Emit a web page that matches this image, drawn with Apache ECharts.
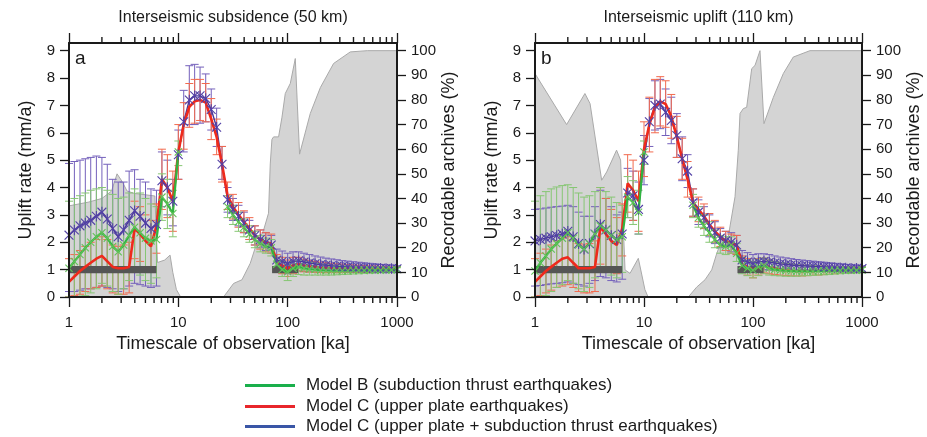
<!DOCTYPE html>
<html>
<head>
<meta charset="utf-8">
<script src="https://cdn.jsdelivr.net/npm/echarts@6/dist/echarts.min.js"></script>
<style>
html, body { margin: 0; padding: 0; background: #fff; }
#chart { width: 927px; height: 437px; }
</style>
</head>
<body>
<div id="chart"></div>
<script>
// Observation timescales (ka), log-spaced
const timescale = [1, 1.12, 1.26, 1.41, 1.58, 1.78, 2, 2.24, 2.51, 2.82, 3.16, 3.55, 3.98, 4.47, 5.01, 5.62, 6.31, 7.08, 7.94, 8.91,
  10, 11.2, 12.6, 14.1, 15.8, 17.8, 20, 22.4, 25.1, 28.2, 31.6, 35.5, 39.8, 44.7, 50.1, 56.2, 63.1, 70.8, 79.4, 89.1,
  100, 112, 126, 141, 158, 178, 200, 224, 251, 282, 316, 355, 398, 447, 501, 562, 631, 708, 794, 891, 1000];

// Panel a: interseismic subsidence (50 km)
const blueMeanA = [2.26, 2.45, 2.6, 2.7, 2.8, 2.95, 3.1, 2.85, 2.5, 2.2, 2.45, 2.8, 3.15, 2.95, 2.7, 2.5, 2.65, 4.25, 4.0, 3.5,
  5.2, 6.4, 7.2, 7.35, 7.35, 7.25, 6.85, 6.2, 4.85, 3.55, 3.2, 2.95, 2.7, 2.45, 2.25, 2.1, 2.0, 1.9, 1.35, 1.3,
  1.22, 1.3, 1.32, 1.28, 1.24, 1.21, 1.18, 1.16, 1.14, 1.12, 1.11, 1.1, 1.09, 1.08, 1.07, 1.06, 1.05, 1.05, 1.04, 1.04, 1.03];
const blueHighA = [4.88, 4.95, 5.0, 5.05, 5.1, 5.15, 5.1, 4.85, 4.3, 4.2, 4.2, 4.6, 4.65, 4.3, 4.2, 3.95, 3.9, 5.3, 5.0, 4.3,
  6.1, 7.55, 8.45, 8.5, 8.4, 8.15, 7.6, 6.9, 5.5, 4.0, 3.6, 3.35, 3.1, 2.8, 2.6, 2.45, 2.35, 2.25, 1.75, 1.68,
  1.6, 1.65, 1.65, 1.6, 1.55, 1.5, 1.46, 1.42, 1.39, 1.36, 1.33, 1.31, 1.29, 1.27, 1.25, 1.23, 1.21, 1.19, 1.17, 1.16, 1.14];
const blueLowA = [0.2, 0.2, 0.25, 0.3, 0.3, 0.35, 0.4, 0.35, 0.3, 0.2, 0.3, 0.4, 0.5, 0.45, 0.4, 0.35, 0.4, 3.3, 3.0, 2.6,
  4.3, 5.3, 6.3, 6.3, 6.35, 6.4, 6.1, 5.5, 4.3, 3.1, 2.8, 2.6, 2.35, 2.1, 1.9, 1.8, 1.7, 1.6, 1.0, 0.92,
  0.85, 0.9, 0.95, 0.93, 0.92, 0.91, 0.9, 0.9, 0.9, 0.9, 0.9, 0.9, 0.9, 0.91, 0.91, 0.91, 0.92, 0.92, 0.92, 0.93, 0.93];

const redMeanA = [0.55, 0.75, 0.95, 1.1, 1.25, 1.4, 1.5, 1.3, 1.1, 1.05, 1.05, 1.1, 2.5, 2.3, 2.05, 1.85, 2.6, 4.3, 4.0, 3.5,
  5.3, 6.3, 6.95, 7.15, 7.2, 7.1, 6.5, 5.85, 4.85, 3.7, 3.3, 3.0, 2.75, 2.5, 2.25, 2.1, 2.0, 1.95, 1.25, 1.15,
  1.05, 1.15, 1.2, 1.15, 1.12, 1.1, 1.08, 1.07, 1.06, 1.05, 1.04, 1.04, 1.03, 1.03, 1.02, 1.02, 1.01, 1.01, 1.0, 1.0, 1.0];
const redHighA = [1.4, 1.55, 1.7, 1.85, 2.0, 2.1, 2.2, 2.1, 1.9, 1.85, 1.9, 2.0, 3.5, 3.3, 3.0, 2.8, 3.4, 5.4, 5.2, 4.6,
  6.3, 7.1, 7.8, 7.95, 7.95, 7.8, 7.25, 6.5, 5.5, 4.2, 3.75, 3.45, 3.15, 2.9, 2.6, 2.45, 2.35, 2.3, 1.55, 1.45,
  1.35, 1.45, 1.45, 1.38, 1.33, 1.3, 1.27, 1.25, 1.23, 1.21, 1.2, 1.18, 1.17, 1.16, 1.15, 1.14, 1.13, 1.12, 1.11, 1.1, 1.1];
const redLowA = [0.0, 0.05, 0.1, 0.2, 0.3, 0.35, 0.4, 0.3, 0.15, 0.1, 0.1, 0.15, 1.4, 1.3, 1.1, 0.9, 1.6, 3.2, 2.9, 2.4,
  4.3, 5.4, 6.2, 6.35, 6.45, 6.4, 5.75, 5.2, 4.2, 3.2, 2.85, 2.55, 2.35, 2.1, 1.9, 1.75, 1.65, 1.6, 0.95, 0.85,
  0.75, 0.85, 0.95, 0.92, 0.91, 0.9, 0.89, 0.89, 0.89, 0.89, 0.89, 0.9, 0.9, 0.9, 0.9, 0.9, 0.9, 0.9, 0.9, 0.9, 0.9];

const greenMeanA = [1.05, 1.3, 1.55, 1.8, 2.0, 2.2, 2.35, 2.15, 1.85, 1.65, 1.9, 2.25, 2.55, 2.35, 2.15, 2.05, 2.1, 3.65, 3.4, 3.05,
  5.3, null, null, null, null, null, null, null, null, 3.3, 3.0, 2.75, 2.55, 2.3, 2.1, 1.95, 1.85, 1.8, 1.2, 1.0,
  0.92, 1.05, 1.1, 1.05, 1.02, 1.0, 0.98, 0.97, 0.96, 0.96, 0.96, 0.96, 0.97, 0.97, 0.97, 0.98, 0.98, 0.98, 0.99, 0.99, 1.0];
const greenHighA = [3.5, 3.6, 3.7, 3.8, 3.9, 3.95, 4.0, 3.9, 3.75, 3.6, 3.65, 3.8, 3.95, 3.8, 3.6, 3.4, 3.3, 4.5, 4.3, 3.9,
  5.7, null, null, null, null, null, null, null, null, 3.7, 3.35, 3.1, 2.85, 2.6, 2.4, 2.25, 2.15, 2.1, 1.45, 1.3,
  1.2, 1.3, 1.35, 1.3, 1.26, 1.22, 1.2, 1.18, 1.16, 1.15, 1.14, 1.13, 1.12, 1.11, 1.1, 1.1, 1.09, 1.08, 1.08, 1.07, 1.07];
const greenLowA = [0.0, 0.0, 0.0, 0.05, 0.15, 0.3, 0.5, 0.4, 0.2, 0.1, 0.3, 0.6, 0.9, 0.8, 0.6, 0.5, 0.7, 2.8, 2.5, 2.2,
  4.8, null, null, null, null, null, null, null, null, 2.9, 2.65, 2.4, 2.2, 2.0, 1.8, 1.65, 1.6, 1.5, 0.95, 0.75,
  0.6, 0.75, 0.82, 0.8, 0.8, 0.8, 0.8, 0.8, 0.8, 0.81, 0.82, 0.83, 0.84, 0.85, 0.86, 0.87, 0.88, 0.89, 0.9, 0.9, 0.91];

// Panel b: interseismic uplift (110 km)
const blueMeanB = [2.05, 2.1, 2.15, 2.2, 2.25, 2.3, 2.4, 2.2, 1.95, 1.75, 1.95, 2.3, 2.65, 2.45, 2.25, 2.1, 2.3, 3.8, 3.7, 3.2,
  5.0, 6.4, 7.0, 7.05, 6.75, 6.45, 5.9, 5.05, 4.6, 3.45, 3.1, 2.9, 2.6, 2.35, 2.15, 2.05, 2.0, 1.9, 1.35, 1.28,
  1.22, 1.28, 1.3, 1.27, 1.24, 1.21, 1.19, 1.17, 1.15, 1.14, 1.13, 1.12, 1.11, 1.1, 1.09, 1.08, 1.07, 1.06, 1.05, 1.05, 1.04];
const blueHighB = [3.2, 3.22, 3.25, 3.28, 3.3, 3.32, 3.35, 3.3, 3.1, 2.95, 2.95, 3.3, 3.9, 3.6, 3.3, 3.0, 3.1, 4.7, 4.6, 4.2,
  5.9, 7.25, 7.9, 7.95, 7.6, 7.3, 6.7, 5.85, 5.2, 3.95, 3.55, 3.3, 3.0, 2.75, 2.5, 2.4, 2.35, 2.25, 1.7, 1.62,
  1.55, 1.58, 1.58, 1.55, 1.5, 1.46, 1.43, 1.4, 1.37, 1.35, 1.33, 1.31, 1.29, 1.27, 1.25, 1.23, 1.21, 1.19, 1.17, 1.15, 1.14];
const blueLowB = [0.4, 0.42, 0.45, 0.48, 0.5, 0.52, 0.55, 0.5, 0.45, 0.4, 0.5, 0.6, 0.75, 0.7, 0.6, 0.55, 0.65, 2.9, 2.8, 2.3,
  4.1, 5.5, 6.1, 6.15, 5.9, 5.6, 5.1, 4.25, 4.0, 2.95, 2.65, 2.5, 2.2, 1.95, 1.8, 1.7, 1.65, 1.55, 1.0, 0.95,
  0.9, 0.98, 1.0, 0.98, 0.97, 0.96, 0.95, 0.94, 0.93, 0.93, 0.93, 0.93, 0.93, 0.93, 0.93, 0.93, 0.93, 0.94, 0.94, 0.94, 0.94];

const redMeanB = [0.55, 0.75, 0.95, 1.1, 1.25, 1.4, 1.45, 1.25, 1.05, 1.05, 1.05, 1.1, 2.55, 2.3, 2.05, 1.9, 2.5, 4.15, 3.9, 3.5,
  5.4, 6.3, 6.95, 7.15, 7.05, 6.6, 5.85, 5.05, 4.3, 3.45, 3.2, 2.95, 2.65, 2.4, 2.2, 2.05, 1.95, 1.9, 1.2, 1.1,
  1.0, 1.1, 1.15, 1.1, 1.05, 1.0, 0.98, 0.96, 0.95, 0.95, 0.95, 0.95, 0.96, 0.96, 0.97, 0.97, 0.98, 0.98, 0.99, 0.99, 1.0];
const redHighB = [1.4, 1.6, 1.75, 1.9, 2.05, 2.15, 2.2, 2.1, 1.95, 1.9, 1.95, 2.05, 4.0, 3.6, 3.2, 2.9, 3.4, 5.2, 5.0, 4.6,
  6.4, 7.3, 7.95, 8.05, 7.9, 7.4, 6.6, 5.8, 4.95, 3.95, 3.65, 3.4, 3.05, 2.8, 2.55, 2.4, 2.3, 2.25, 1.5, 1.4,
  1.3, 1.4, 1.42, 1.35, 1.3, 1.25, 1.22, 1.2, 1.18, 1.16, 1.15, 1.14, 1.13, 1.12, 1.12, 1.11, 1.11, 1.1, 1.1, 1.1, 1.1];
const redLowB = [0.0, 0.05, 0.15, 0.25, 0.35, 0.4, 0.45, 0.35, 0.2, 0.15, 0.15, 0.2, 1.2, 1.1, 0.95, 0.85, 1.5, 3.1, 2.8, 2.4,
  4.4, 5.3, 6.0, 6.25, 6.2, 5.8, 5.1, 4.3, 3.65, 2.95, 2.75, 2.5, 2.25, 2.0, 1.85, 1.7, 1.6, 1.55, 0.9, 0.8,
  0.7, 0.8, 0.88, 0.85, 0.82, 0.8, 0.78, 0.77, 0.77, 0.77, 0.78, 0.79, 0.8, 0.82, 0.83, 0.85, 0.86, 0.87, 0.88, 0.89, 0.9];

const greenMeanB = [0.95, 1.25, 1.5, 1.75, 1.95, 2.15, 2.35, 2.15, 1.9, 1.75, 1.95, 2.3, 2.6, 2.45, 2.25, 2.1, 2.2, 3.65, 3.45, 3.1,
  5.3, null, null, null, null, null, null, null, null, 3.35, 2.9, 2.6, 2.35, 2.1, 1.9, 1.85, 1.9, 1.6, 1.15, 1.05,
  0.98, 1.1, 1.15, 1.05, 1.0, 0.98, 0.96, 0.95, 0.94, 0.94, 0.94, 0.94, 0.95, 0.95, 0.96, 0.96, 0.97, 0.97, 0.98, 0.98, 0.99];
const greenHighB = [3.5, 3.7, 3.85, 3.95, 4.02, 4.07, 4.1, 4.0, 3.8, 3.65, 3.7, 3.85, 4.0, 3.85, 3.65, 3.45, 3.35, 4.4, 4.25, 3.9,
  5.7, null, null, null, null, null, null, null, null, 3.75, 3.3, 3.0, 2.75, 2.45, 2.25, 2.2, 2.2, 1.95, 1.45, 1.35,
  1.3, 1.38, 1.42, 1.35, 1.3, 1.26, 1.23, 1.2, 1.18, 1.16, 1.15, 1.14, 1.13, 1.12, 1.11, 1.1, 1.1, 1.09, 1.09, 1.08, 1.08];
const greenLowB = [0.0, 0.0, 0.05, 0.2, 0.35, 0.45, 0.6, 0.5, 0.3, 0.2, 0.35, 0.7, 1.0, 0.95, 0.8, 0.7, 0.9, 2.9, 2.65, 2.3,
  4.85, null, null, null, null, null, null, null, null, 2.9, 2.55, 2.25, 2.0, 1.8, 1.6, 1.55, 1.6, 1.3, 0.85, 0.78,
  0.7, 0.78, 0.85, 0.8, 0.78, 0.77, 0.76, 0.76, 0.76, 0.77, 0.78, 0.79, 0.8, 0.81, 0.82, 0.84, 0.85, 0.86, 0.87, 0.88, 0.89];

// Recordable archives (%) through time
const archiveTimeA = [1, 1.5, 2, 2.45, 2.75, 3.05, 3.4, 4, 5, 6.1, 6.45, 7.5, 8.4, 8.9, 9.6, 10.5, 25.9, 32, 38.2, 45.5,
  50.5, 60.1, 66.8, 69.3, 71.8, 74.3, 82.6, 88.7, 95.1, 105.7, 117.4, 128.5, 161, 199, 263, 374, 535, 1000];
const archivePctA = [37, 38.5, 40, 43, 50, 47, 43, 42, 41.5, 41, 14, 15, 17, 10, 3, 0, 0, 5.5, 7, 13.7,
  20, 27, 34, 54, 64, 65, 65, 73, 82.6, 86.7, 96.8, 58, 74.5, 85, 94.8, 99.5, 100, 100];
const archiveTimeB = [1, 1.95, 2.87, 3.2, 4.09, 4.55, 5.6, 6.1, 6.7, 7.44, 8.87, 10.2, 10.9, 25.5, 30.4, 36.3, 41.8, 46.5,
  51.6, 59.3, 68.4, 73.3, 76, 81.5, 87.5, 97.3, 104.3, 115.9, 126.1, 153.5, 189.7, 234, 333, 1000];
const archivePctB = [90.7, 70, 82.6, 78.5, 47.4, 50.8, 59.6, 55.6, 11, 9.6, 15.7, 3, 0, 0, 4, 7, 11, 17.7,
  23, 24.5, 40.7, 59.6, 74.5, 76.5, 77, 92.7, 94, 100, 70.4, 81, 90.7, 97.4, 100, 100];

// Imposed (true) uplift rate shown as a band over the calibrated intervals
const trueRateSpans = [[1, 6.3], [72, 125]];
const trueRate = 1;
const trueRateHalfWidth = 0.13;

// Tick labels
const rateTicks = [0, 1, 2, 3, 4, 5, 6, 7, 8, 9];
const archiveTicks = [0, 10, 20, 30, 40, 50, 60, 70, 80, 90, 100];
const majorTimeTicks = [1, 10, 100, 1000];
const minorTimeTicks = [2, 3, 4, 5, 6, 7, 8, 9, 20, 30, 40, 50, 60, 70, 80, 90, 200, 300, 400, 500, 600, 700, 800, 900];

const panelTitles = ['Interseismic subsidence (50 km)', 'Interseismic uplift (110 km)'];
const panelLetters = ['a', 'b'];
const legendNames = [
  'Model B (subduction thrust earthquakes)',
  'Model C (upper plate earthquakes)',
  'Model C (upper plate + subduction thrust earthquakes)'
];

const FONT = 'Liberation Sans, Arial, Helvetica, sans-serif';
const INK = '#1a1a1a';
const RATE_MAX = 9.28;
const PCT_MAX = RATE_MAX * 100 / 9;

const panels = [
  { blue: [blueMeanA, blueLowA, blueHighA], red: [redMeanA, redLowA, redHighA], green: [greenMeanA, greenLowA, greenHighA],
    archive: [archiveTimeA, archivePctA] },
  { blue: [blueMeanB, blueLowB, blueHighB], red: [redMeanB, redLowB, redHighB], green: [greenMeanB, greenLowB, greenHighB],
    archive: [archiveTimeB, archivePctB] }
];

const styles = {
  blue:  { name: legendNames[2], line: '#4a3899', width: 1.4, bar: '#7460bb', marker: 'star', markerColor: '#5240a6', legend: '#3a56a6' },
  red:   { name: legendNames[1], line: '#ee2a1c', width: 2.6, bar: '#f26a4e', marker: null, legend: '#e8262b' },
  green: { name: legendNames[0], line: '#30b540', width: 2.2, bar: '#86c673', marker: 'cross', markerColor: '#62c258', legend: '#1aaf4b' }
};

function seg(x1, y1, x2, y2, color, w) {
  return { type: 'line', shape: { x1, y1, x2, y2 }, style: { stroke: color, lineWidth: w, fill: null } };
}

function errorBarRender(color) {
  return function (params, api) {
    const x = api.value(0), lo = api.value(1), hi = api.value(2);
    if (isNaN(lo) || isNaN(hi)) return null;
    const a = api.coord([x, Math.max(lo, 0)]);
    const b = api.coord([x, hi]);
    const c = 4;
    return { type: 'group', children: [
      seg(a[0], a[1], b[0], b[1], color, 1),
      seg(b[0] - c, b[1], b[0] + c, b[1], color, 1),
      seg(a[0] - c, a[1], a[0] + c, a[1], color, 1)
    ] };
  };
}

function markerRender(kind, color) {
  return function (params, api) {
    const y = api.value(1);
    if (isNaN(y)) return null;
    const p = api.coord([api.value(0), y]);
    const s = kind === 'star' ? 4.4 : 3.6;
    const kids = [
      seg(p[0] - s, p[1] - s, p[0] + s, p[1] + s, color, 1.1),
      seg(p[0] - s, p[1] + s, p[0] + s, p[1] - s, color, 1.1)
    ];
    if (kind === 'star') kids.push(seg(p[0], p[1] - s * 1.2, p[0], p[1] + s * 1.2, color, 1.1));
    return { type: 'group', children: kids };
  };
}

function bandRender(params, api) {
  const a = api.coord([api.value(0), trueRate + trueRateHalfWidth]);
  const b = api.coord([api.value(1), trueRate - trueRateHalfWidth]);
  return { type: 'rect', shape: { x: a[0], y: a[1], width: b[0] - a[0], height: b[1] - a[1] },
    style: { fill: '#555555' } };
}

const xAxes = [], yAxes = [], series = [];
const tickStyle = { color: INK, width: 1.3 };

panels.forEach((panel, g) => {
  const xi = 2 * g, yi = 2 * g;
  const axisLine = { show: true, onZero: false, lineStyle: { color: INK, width: 2 } };

  xAxes.push({
    gridIndex: g, type: 'log', logBase: 10, min: 1, max: 1000, position: 'bottom', z: 10,
    axisLine, axisTick: { show: true, length: 10, lineStyle: tickStyle, customValues: majorTimeTicks },
    axisLabel: { show: true, margin: 18, fontSize: 15, color: INK, fontFamily: FONT,
      customValues: majorTimeTicks, formatter: v => String(Math.round(v)) },
    splitLine: { show: false },
    name: 'Timescale of observation [ka]', nameLocation: 'middle', nameGap: 35,
    nameTextStyle: { fontSize: 18, color: INK, fontFamily: FONT }
  });
  xAxes.push({
    gridIndex: g, type: 'log', logBase: 10, min: 1, max: 1000, position: 'top', z: 10,
    axisLine, axisTick: { show: true, length: 10, lineStyle: tickStyle, customValues: majorTimeTicks },
    axisLabel: { show: false }, splitLine: { show: false },
    name: panelTitles[g], nameLocation: 'middle', nameGap: 17,
    nameTextStyle: { fontSize: 16, color: INK, fontFamily: FONT }
  });

  yAxes.push({
    gridIndex: g, type: 'value', min: 0, max: RATE_MAX, position: 'left', z: 10,
    axisLine, axisTick: { show: true, length: 9, lineStyle: tickStyle, customValues: rateTicks },
    axisLabel: { margin: 14, fontSize: 15, color: INK, fontFamily: FONT, customValues: rateTicks },
    splitLine: { show: false },
    name: 'Uplift rate (mm/a)', nameLocation: 'middle', nameGap: 34,
    nameTextStyle: { fontSize: 18, color: INK, fontFamily: FONT }
  });
  yAxes.push({
    gridIndex: g, type: 'value', min: 0, max: PCT_MAX, position: 'right', z: 10,
    axisLine, axisTick: { show: true, length: 9, lineStyle: tickStyle, customValues: archiveTicks },
    axisLabel: { margin: 14, fontSize: 15, color: INK, fontFamily: FONT, customValues: archiveTicks },
    splitLine: { show: false },
    name: 'Recordable archives (%)', nameLocation: 'middle', nameGap: 40,
    nameTextStyle: { fontSize: 18, color: INK, fontFamily: FONT }
  });

  // recordable archives area
  series.push({
    type: 'line', name: 'Recordable archives', xAxisIndex: xi, yAxisIndex: yi + 1, z: 1, silent: true,
    data: panel.archive[0].map((t, i) => [t, panel.archive[1][i]]),
    showSymbol: false, symbol: 'none',
    lineStyle: { color: '#a9a9a9', width: 1 }, areaStyle: { color: '#d4d4d4', opacity: 1 }
  });

  // error bars
  ['blue', 'red', 'green'].forEach(key => {
    const [mean, lo, hi] = panel[key];
    series.push({
      type: 'custom', xAxisIndex: xi, yAxisIndex: yi, z: 2, silent: true,
      renderItem: errorBarRender(styles[key].bar),
      encode: { x: 0, y: [1, 2] },
      data: timescale.map((t, i) => [t, lo[i] == null ? NaN : lo[i], hi[i] == null ? NaN : hi[i]])
    });
  });

  // imposed rate band
  series.push({
    type: 'custom', xAxisIndex: xi, yAxisIndex: yi, z: 3, silent: true,
    renderItem: bandRender, encode: { x: [0, 1] },
    data: trueRateSpans
  });

  // mean lines
  ['blue', 'red', 'green'].forEach((key, k) => {
    const st = styles[key];
    series.push({
      type: 'line', name: st.name, xAxisIndex: xi, yAxisIndex: yi, z: 4 + k * 0.1,
      data: timescale.map((t, i) => [t, panel[key][0][i]]),
      showSymbol: false, symbol: 'none', connectNulls: false,
      color: st.legend,
      lineStyle: { color: st.line, width: st.width }
    });
  });

  // markers
  ['blue', 'green'].forEach(key => {
    const st = styles[key];
    series.push({
      type: 'custom', xAxisIndex: xi, yAxisIndex: yi, z: 5, silent: true,
      renderItem: markerRender(st.marker, st.markerColor), encode: { x: 0, y: 1 },
      data: timescale.map((t, i) => [t, panel[key][0][i] == null ? NaN : panel[key][0][i]])
    });
  });
});

const legendTops = [377, 398, 418];
const legendColors = [styles.green.legend, styles.red.legend, styles.blue.legend];

const letterGraphics = panelLetters.map((ch, g) => ({
  type: 'text', left: g === 0 ? 75 : 541, top: 49, z: 20,
  style: { text: ch, fontSize: 19, fill: INK, fontFamily: FONT }
}));

const option = {
  animation: false,
  backgroundColor: '#ffffff',
  textStyle: { fontFamily: FONT },
  grid: [
    { left: 69, top: 43, width: 328, height: 254 },
    { left: 535, top: 43, width: 327, height: 254 }
  ],
  xAxis: xAxes,
  yAxis: yAxes,
  legend: legendNames.map((name, i) => ({
    data: [{ name, icon: 'rect', itemStyle: { color: legendColors[i] } }],
    left: 245, top: legendTops[i], padding: 0, itemWidth: 50, itemHeight: 3, selectedMode: false,
    textStyle: { fontSize: 17, color: INK, fontFamily: FONT, padding: [0, 0, 0, 6] }
  })),
  graphic: letterGraphics,
  series
};

const chart = echarts.init(document.getElementById('chart'), null, { renderer: 'canvas' });
chart.setOption(option);

// log minor ticks (2..9 of each decade), placed through the axes' own scales
const minorTickMarks = [];
panels.forEach((panel, g) => {
  const yBottom = chart.convertToPixel({ yAxisIndex: 2 * g }, 0);
  const yTop = chart.convertToPixel({ yAxisIndex: 2 * g }, RATE_MAX);
  minorTimeTicks.forEach(v => {
    const x = chart.convertToPixel({ xAxisIndex: 2 * g }, v);
    minorTickMarks.push({ type: 'line', zlevel: 10, z: 100, silent: true,
      shape: { x1: x, y1: yBottom - 1, x2: x, y2: yBottom + 6 }, style: { stroke: INK, lineWidth: 1.4 } });
    minorTickMarks.push({ type: 'line', zlevel: 10, z: 100, silent: true,
      shape: { x1: x, y1: yTop + 1, x2: x, y2: yTop - 6 }, style: { stroke: INK, lineWidth: 1.4 } });
  });
});
chart.setOption({ graphic: letterGraphics.concat(minorTickMarks) });
</script>
</body>
</html>
